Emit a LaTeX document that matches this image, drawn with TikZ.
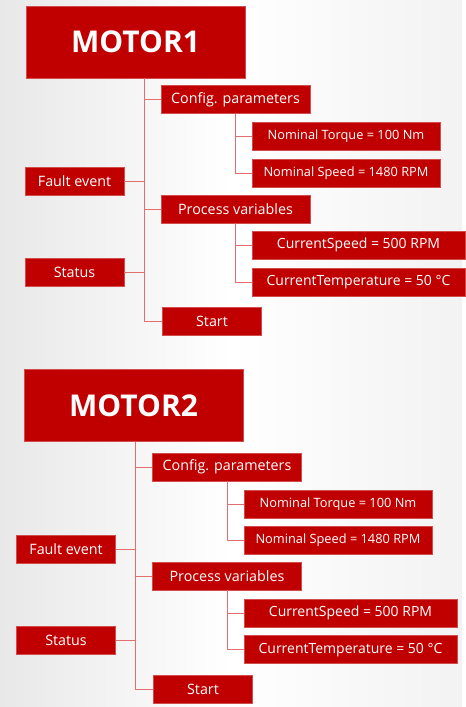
\documentclass[tikz,border=0pt]{standalone}
\usepackage{fontspec}
\setmainfont{Open Sans}
\usetikzlibrary{positioning}
\definecolor{boxred}{RGB}{192,0,0}
\definecolor{linkred}{RGB}{226,110,110}
\tikzset{
  motorbox/.style={rectangle, fill=boxred, draw=boxred!70!white, line width=0.6pt,
    text=white, inner sep=0pt, minimum width=219pt, minimum height=72pt,
    font=\fontsize{30}{33}\selectfont\bfseries},
  groupbox/.style={rectangle, fill=boxred, draw=boxred!70!white, line width=0.6pt,
    text=white, inner sep=0pt, minimum width=149pt, minimum height=28pt,
    font=\fontsize{14.3}{16}\selectfont},
  sidebox/.style={groupbox, minimum width=99pt},
  paramsbox/.style={groupbox, minimum width=188pt, font=\fontsize{12.8}{14}\selectfont},
  varsbox/.style={groupbox, minimum width=213pt, font=\fontsize{14}{16}\selectfont},
  link/.style={draw=linkred, line width=0.9pt}
}

\begin{document}
\begin{tikzpicture}[x=1pt, y=-1pt]
  \shade[left color=black!9, right color=black!5, middle color=white] (0,0) rectangle (462,707);

  \node[motorbox] (m1) at (135.5,42) {MOTOR1};
  \coordinate (m1t) at (144,78);
  \node[groupbox] (m1cfg) at (235.5,99.5) {Config. parameters};
  \node[paramsbox] (m1torque) at (346,136) {Nominal Torque = 100 Nm};
  \node[paramsbox, below=9pt of m1torque] (m1nspeed) {Nominal Speed = 1480 RPM};
  \node[sidebox] (m1fault) at (74.5,181.5) {Fault event};
  \node[groupbox] (m1proc) at (235.5,209) {Process variables};
  \node[varsbox] (m1cspeed) at (358.5,245) {CurrentSpeed = 500 RPM};
  \node[varsbox, below=9pt of m1cspeed] (m1ctemp) {CurrentTemperature = 50 °C};
  \node[sidebox] (m1status) at (74.5,272.5) {Status};
  \node[sidebox] (m1start) at (212,321.5) {Start};

  \draw[link] (m1t) |- (m1cfg.west);
  \draw[link] (m1t) |- (m1proc.west);
  \draw[link] (m1t) |- (m1start.west);
  \draw[link] (m1fault.east) -- (m1fault.east -| m1t);
  \draw[link] (m1status.east) -- (m1status.east -| m1t);
  \draw[link] (m1cfg.south) |- (m1torque.west);
  \draw[link] (m1cfg.south) |- (m1nspeed.west);
  \draw[link] (m1proc.south) |- (m1cspeed.west);
  \draw[link] (m1proc.south) |- (m1ctemp.west);

  \node[motorbox] (m2) at (133.5,405.5) {MOTOR2};
  \coordinate (m2t) at (135,442);
  \node[groupbox] (m2cfg) at (227,467) {Config. parameters};
  \node[paramsbox] (m2torque) at (338,504) {Nominal Torque = 100 Nm};
  \node[paramsbox, below=8pt of m2torque] (m2nspeed) {Nominal Speed = 1480 RPM};
  \node[sidebox] (m2fault) at (66,549) {Fault event};
  \node[groupbox] (m2proc) at (227,576) {Process variables};
  \node[varsbox] (m2cspeed) at (350.5,613) {CurrentSpeed = 500 RPM};
  \node[varsbox, below=8pt of m2cspeed] (m2ctemp) {CurrentTemperature = 50 °C};
  \node[sidebox] (m2status) at (66,640) {Status};
  \node[sidebox] (m2start) at (203,689) {Start};

  \draw[link] (m2t) |- (m2cfg.west);
  \draw[link] (m2t) |- (m2proc.west);
  \draw[link] (m2t) |- (m2start.west);
  \draw[link] (m2fault.east) -- (m2fault.east -| m2t);
  \draw[link] (m2status.east) -- (m2status.east -| m2t);
  \draw[link] (m2cfg.south) |- (m2torque.west);
  \draw[link] (m2cfg.south) |- (m2nspeed.west);
  \draw[link] (m2proc.south) |- (m2cspeed.west);
  \draw[link] (m2proc.south) |- (m2ctemp.west);
\end{tikzpicture}
\end{document}
